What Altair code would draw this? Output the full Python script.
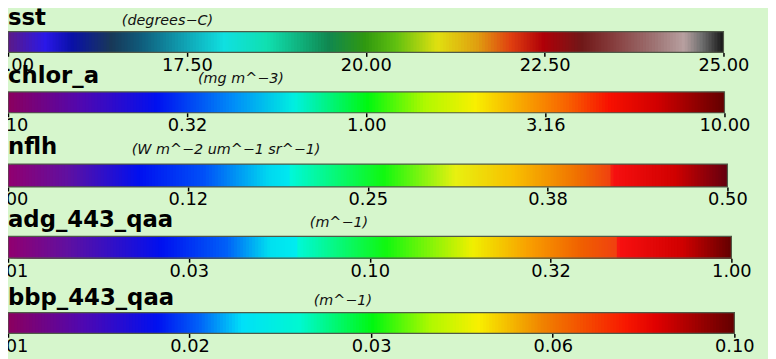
import altair as alt
import numpy as np
import pandas as pd

# ---- data ----
names = ["sst", "chlor_a", "nflh", "adg_443_qaa", "bbp_443_qaa"]
units = ["(degrees\u2212C)", "(mg m^\u22123)", "(W m^\u22122 um^\u22121 sr^\u22121)",
         "(m^\u22121)", "(m^\u22121)"]
scale_types = ["linear", "log", "linear", "log", "log"]
domains = [[15, 25], [0.1, 10], [0.0, 0.5], [0.01, 1.0], [0.01, 0.1]]
tick_values = [[15, 17.5, 20, 22.5, 25],
               [0.1, 0.3162, 1.0, 3.162, 10.0],
               [0.0, 0.125, 0.25, 0.375, 0.5],
               [0.01, 0.03162, 0.1, 0.3162, 1.0],
               [0.01, 0.01778, 0.03162, 0.05623, 0.1]]
tick_labels = [["15.00", "17.50", "20.00", "22.50", "25.00"],
               ["0.10", "0.32", "1.00", "3.16", "10.00"],
               ["0.00", "0.12", "0.25", "0.38", "0.50"],
               ["0.01", "0.03", "0.10", "0.32", "1.00"],
               ["0.01", "0.02", "0.03", "0.06", "0.10"]]

# colour-map stops (fraction along bar, colour)
sst_pos = [0, 0.05, 0.087, 0.142, 0.18, 0.25, 0.30, 0.36, 0.446, 0.497, 0.54,
           0.598, 0.653, 0.70, 0.746, 0.80, 0.847, 0.906, 0.943, 0.967, 1.0]
sst_col = ["#5a1a8a", "#2a18e8", "#0a10a8", "#183858", "#105878", "#10a8b8",
           "#10e0e0", "#10e0b0", "#108850", "#309810", "#60c010", "#e0e010",
           "#e0a010", "#e04010", "#b00008", "#701818", "#884040", "#a07878",
           "#b8a0a0", "#707070", "#101010"]
chl_pos = [0, 0.1, 0.206, 0.315, 0.398, 0.5, 0.58, 0.65, 0.713, 0.78, 0.837, 0.905, 1.0]
chl_col = ["#8a0060", "#5008b0", "#0010f0", "#0090f8", "#00f0e0", "#00f810",
           "#b0f800", "#f8f000", "#f8a800", "#f86000", "#f81000", "#d00000", "#600000"]
nfl_pos = [0, 0.08, 0.18, 0.27, 0.36, 0.389, 0.391, 0.52, 0.62, 0.70, 0.79,
           0.836, 0.838, 0.925, 1.0]
nfl_col = ["#900070", "#6010a0", "#0010f0", "#0050f8", "#00d8f0", "#00e8f0",
           "#00f8d8", "#10f810", "#e8f010", "#f8c000", "#f07000", "#f04010",
           "#f81010", "#d00000", "#600010"]
adg_pos = [0, 0.08, 0.21, 0.30, 0.36, 0.396, 0.398, 0.52, 0.64, 0.717, 0.79,
           0.84, 0.842, 0.93, 1.0]
adg_col = ["#900070", "#6010a0", "#0010f0", "#0060f8", "#00e0f0", "#00ecf0",
           "#00f8d8", "#10f810", "#f0f000", "#f8a000", "#f06000", "#f04010",
           "#f81010", "#d00000", "#600000"]
bbp_pos = [0, 0.1, 0.203, 0.26, 0.32, 0.40, 0.5, 0.58, 0.645, 0.736, 0.848, 0.89, 1.0]
bbp_col = ["#8a0060", "#5008b0", "#0010f0", "#0060f8", "#00e0f8", "#00f8d0",
           "#00f810", "#b0f800", "#f8f000", "#f08000", "#f81800", "#e00000", "#600000"]
stop_pos = [sst_pos, chl_pos, nfl_pos, adg_pos, bbp_pos]
stop_col = [sst_col, chl_col, nfl_col, adg_col, bbp_col]

# ---- layout (pixels, chart coordinates) ----
W, H = 768, 351
bar_right = [723, 724, 727, 731, 734]
bar_top = [22, 83, 156, 229, 306]
bar_bot = [43, 104, 179, 251, 327]
title_y = [15, 74, 146, 219, 298]
unit_x = [115, 192, 125, 305, 309]

N = 240
layers = []
for k in range(5):
    d0, d1 = domains[k]
    f = np.arange(N) / N
    if scale_types[k] == "log":
        xv = 10 ** (np.log10(d0) + f * (np.log10(d1) - np.log10(d0)))
    else:
        xv = d0 + f * (d1 - d0)
    cells = pd.DataFrame({"v": xv, "v2": d1, "f": f})
    label_expr = " : ".join(
        f"abs(datum.value - {v}) < {v * 1e-3 + 1e-9} ? '{l}'"
        for v, l in zip(tick_values[k], tick_labels[k])) + " : ''"
    xscale = alt.Scale(type=scale_types[k], domain=domains[k],
                       range=[0, bar_right[k]], nice=False, zero=False)
    xenc = alt.X("v:Q", scale=xscale,
                 axis=alt.Axis(orient="bottom", offset=bar_bot[k] - H,
                               values=tick_values[k], labelExpr=label_expr,
                               domain=False, grid=False, ticks=True,
                               tickColor="#000000", tickWidth=1.5, tickSize=4,
                               labelFont="DejaVu Sans", labelFontSize=18,
                               labelColor="#000000", labelPadding=0,
                               labelFlush=False, labelOverlap=False,
                               labelBound=False, title=None))
    grad = alt.Chart(cells).mark_rect(strokeWidth=0).encode(
        x=xenc, x2="v2:Q",
        y=alt.value(bar_top[k]), y2=alt.value(bar_bot[k]),
        color=alt.Color("f:Q", legend=None,
                        scale=alt.Scale(domain=stop_pos[k], range=stop_col[k],
                                        interpolate="rgb")),
    )
    border = alt.Chart(pd.DataFrame({"v": [d0], "v2": [d1]})).mark_rect(
        fillOpacity=0, stroke="#505a48", strokeWidth=1.2).encode(
        x=xenc, x2="v2:Q",
        y=alt.value(bar_top[k]), y2=alt.value(bar_bot[k]))
    txt = pd.DataFrame({"name": [names[k]], "unit": [units[k]]})
    title = alt.Chart(txt).mark_text(
        font="DejaVu Sans", fontSize=23, fontWeight="bold", align="left",
        baseline="alphabetic", color="#000000").encode(
        text="name:N", x=alt.value(0), y=alt.value(title_y[k]))
    unit = alt.Chart(txt).mark_text(
        font="DejaVu Sans", fontSize=14.5, fontStyle="italic", align="left",
        baseline="alphabetic", color="#111111").encode(
        text="unit:N", x=alt.value(unit_x[k]), y=alt.value(title_y[k]))
    layers.append(alt.layer(grad, border, title, unit))

chart = alt.layer(*layers).resolve_scale(
    x="independent", color="independent"
).resolve_axis(x="independent").properties(
    width=W, height=H, padding=0,
    autosize=alt.AutoSizeParams(type="none"),
    background="#d6f6cc",
).configure_view(strokeWidth=0)

chart.save("out.html", embed_options={"renderer": "svg", "actions": False})
